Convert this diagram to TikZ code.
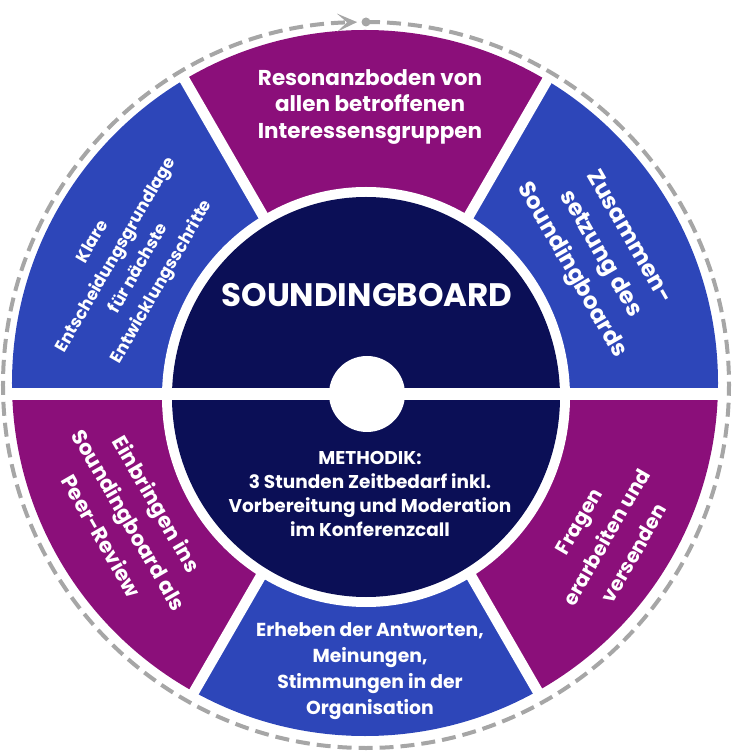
\documentclass[tikz,border=0pt]{standalone}
\usepackage{fontspec}
\setmainfont{Poppins}
\usetikzlibrary{arrows.meta}
\definecolor{sbblue}{HTML}{2D46B9}
\definecolor{sbpurple}{HTML}{8B0F7A}
\definecolor{sbnavy}{HTML}{0B0F56}
\definecolor{sbgray}{HTML}{A6A6A6}
\tikzset{
    seglabel/.style={text=white, align=center, inner sep=0pt},
    gapline/.style={white, line width=10.5pt},
}
\begin{document}
\begin{tikzpicture}[x=1pt,y=1pt]
    \useasboundingbox (-366,-357) rectangle (367,394);
    % Define the ring segments
    \begin{scope}
        \clip (-1,11) circle (353pt);
        \foreach \a/\c in {0/sbblue,60/sbpurple,120/sbblue,180/sbpurple,240/sbblue,300/sbpurple} {
            \fill[\c] (0,0) -- (\a:520) -- (\a+60:520) -- cycle;
        }
    \end{scope}
    % Add gaps between segments
    \foreach \a in {60,120,240,300} {
        \draw[gapline] (0,0) -- (\a:400);
    }
    \draw[white, line width=12pt] (-380,0) -- (380,0);
    % Centre disc
    \fill[white] (0,-3) ellipse [x radius=204pt, y radius=210pt];
    \fill[sbnavy] (0,-3) ellipse [x radius=194pt, y radius=200pt];
    \draw[white, line width=12pt] (-200,0) -- (200,0);
    \fill[white] (1,0) circle (38pt);
    % Dashed cycle round the ring
    \node[circle, fill=sbgray, inner sep=0pt, minimum size=9pt] (start) at (0,372) {};
    \draw[sbgray, line width=4pt, dash pattern=on 14pt off 7pt,
        -{Stealth[length=20pt,width=18pt,inset=10pt]}]
        (start.center) arc [start angle=90, end angle=-268.6, radius=363pt];
    % Labels on the segments
    \node[seglabel, font=\bfseries\fontsize{21.5}{26.5}\selectfont] (resonanz) at (4,287)
        {Resonanzboden von\\allen betroffenen\\Interessensgruppen};
    \node[seglabel, rotate=-60, font=\bfseries\fontsize{23}{33}\selectfont] (zusammen) at (30.9:272)
        {Zusammen-\\setzung des\\Soundingboards};
    \node[seglabel, rotate=60, font=\bfseries\fontsize{20}{32}\selectfont] (fragen) at (-30.8:280)
        {Fragen\\erarbeiten und\\versenden};
    \node[seglabel, font=\bfseries\fontsize{18.8}{26}\selectfont] (erheben) at (4,-277)
        {Erheben der Antworten,\\Meinungen,\\Stimmungen in der\\Organisation};
    \node[seglabel, rotate=-60, font=\bfseries\fontsize{21}{32}\selectfont] (einbringen) at (208:268)
        {Einbringen ins\\Soundingboard als\\Peer-Review};
    \node[seglabel, rotate=60, font=\bfseries\fontsize{17}{26.5}\selectfont] (klare) at (151:272)
        {Klare\\Entscheidungsgrundlage\\für nächste\\Entwicklungsschritte};
    % Texts in the centre
    \node[seglabel, font=\bfseries\fontsize{32.5}{38}\selectfont] (title) at (1,99) {SOUNDINGBOARD};
    \node[seglabel, font=\bfseries\fontsize{18.5}{24}\selectfont] (methodik) at (4,-100)
        {METHODIK:\\3 Stunden Zeitbedarf inkl.\\Vorbereitung und Moderation\\im Konferenzcall};
\end{tikzpicture}
\end{document}
